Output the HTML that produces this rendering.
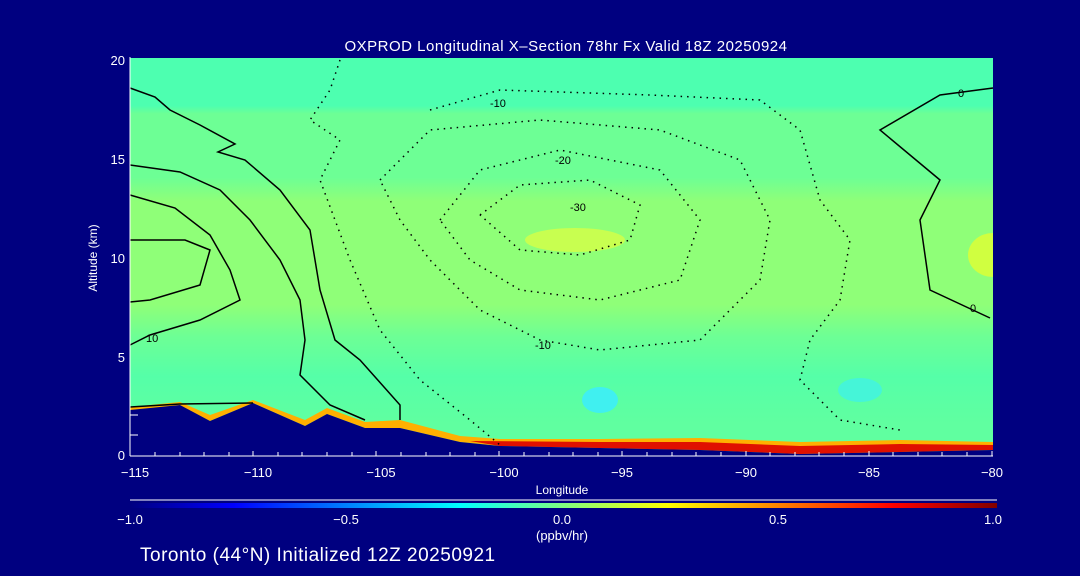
<!DOCTYPE html>
<html><head><style>
body{margin:0;background:#000080;width:1080px;height:576px;overflow:hidden}
svg{display:block}
text{font-family:"Liberation Sans",sans-serif;fill:#fff}
</style></head><body>
<svg width="1080" height="576" viewBox="0 0 1080 576">
<defs>
<clipPath id="pc"><rect x="130" y="58" width="863" height="398"/></clipPath>
<linearGradient id="bg" x1="0" y1="0" x2="0" y2="1">
<stop offset="0" stop-color="#4dffb0"/><stop offset="0.12" stop-color="#4dffb0"/>
<stop offset="0.14" stop-color="#6dff95"/><stop offset="0.3" stop-color="#6dff95"/>
<stop offset="0.36" stop-color="#8fff78"/><stop offset="0.62" stop-color="#8fff78"/>
<stop offset="0.7" stop-color="#6dff95"/><stop offset="0.8" stop-color="#55ffa8"/>
<stop offset="0.92" stop-color="#60ffa0"/><stop offset="1" stop-color="#60ffa0"/>
</linearGradient>
<linearGradient id="cb" x1="0" x2="1">
<stop offset="0" stop-color="#000080"/><stop offset="0.12" stop-color="#0000ff"/>
<stop offset="0.38" stop-color="#00ffff"/><stop offset="0.5" stop-color="#80ff80"/>
<stop offset="0.62" stop-color="#ffff00"/><stop offset="0.88" stop-color="#ff0000"/>
<stop offset="1" stop-color="#800000"/>
</linearGradient>
</defs>
<text x="566" y="51" font-size="15" text-anchor="middle" letter-spacing="0.5">OXPROD Longitudinal X–Section 78hr  Fx Valid 18Z 20250924</text>
<g clip-path="url(#pc)">
<rect x="130" y="58" width="863" height="398" fill="url(#bg)"/>
<ellipse cx="575" cy="240" rx="50" ry="12" fill="#c8ff50"/>
<ellipse cx="993" cy="255" rx="25" ry="22" fill="#d0ff40"/>
<ellipse cx="600" cy="400" rx="18" ry="13" fill="#40f0f0"/>
<ellipse cx="860" cy="390" rx="22" ry="12" fill="#45f5d8"/>
<polygon points="130,407 180,402 210,415 253,400 305,420 327,408 365,422 400,420 460,436 500,439 600,439 700,438 800,442 900,440 993,442 993,450 900,452 800,454 700,450 600,448 500,446 460,442 400,428 365,428 327,414 305,426 253,403 210,421 180,406 130,411" fill="#ffb000"/>
<polygon points="470,441 600,442 700,442 800,446 900,444 993,445 993,450 900,452 800,454 700,450 600,448 500,446" fill="#e01000"/>
<polygon points="130,410 180,405 210,421 253,403 305,426 327,414 365,428 400,428 460,442 500,446 600,448 700,450 800,454 900,452 993,450 993,456 130,456" fill="#000080"/>
</g>
<g fill="none" stroke="#000" stroke-width="1.5">
<polyline points="130,88 155,97 170,110 200,125 235,144 218,152 245,160 280,190 310,230 320,290 335,340 360,360 400,405 400,420"/>
<polyline points="130,165 180,172 220,190 250,220 280,260 300,300 305,340 300,375 330,405 365,420"/>
<polyline points="130,195 175,208 210,235 230,270 240,300 200,320 150,335 130,345"/>
<polyline points="130,240 185,240 210,250 200,285 150,300 130,302"/>
<polyline points="130,407 180,404 253,403"/>
<polyline points="993,88 940,95 880,130 940,180 920,220 930,290 990,318"/>
</g>
<g fill="none" stroke="#000" stroke-width="1.5" stroke-dasharray="1.5 5">
<polyline points="340,60 330,90 310,120 340,140 320,180 350,260 380,330 420,380 470,420 500,445"/>
<polyline points="430,110 500,90 650,95 760,100 800,130 820,200 850,240 840,300 810,340 800,380 840,420 900,430"/>
<polyline points="380,180 430,130 540,120 660,130 740,160 770,220 760,280 700,340 600,350 540,340 480,310 430,260 400,220 380,180"/>
<polyline points="440,220 480,170 560,150 660,170 700,220 680,280 600,300 520,290 470,260 440,220"/>
<polyline points="480,215 520,185 590,180 640,205 630,240 580,255 520,250 480,215"/>
</g>
<g font-size="11" style="fill:#000">
<text x="490" y="107" style="fill:#000">-10</text>
<text x="555" y="164" style="fill:#000">-20</text>
<text x="570" y="211" style="fill:#000">-30</text>
<text x="535" y="349" style="fill:#000">-10</text>
<text x="146" y="342" style="fill:#000">10</text>
<text x="958" y="97" style="fill:#000">0</text>
<text x="970" y="312" style="fill:#000">0</text>
</g>
<line x1="130" y1="57" x2="130" y2="456" stroke="#fff"/>
<line x1="130" y1="456" x2="993" y2="456" stroke="#fff"/>
<g stroke="#fff">
<path d="M130,456v-5M155,456v-4M180,456v-4M204,456v-4M229,456v-4M253,456v-5M278,456v-4M302,456v-4M327,456v-4M352,456v-4M376,456v-5M401,456v-4M426,456v-4M450,456v-4M475,456v-4M499,456v-5M524,456v-4M549,456v-4M573,456v-4M598,456v-4M622,456v-5M647,456v-4M672,456v-4M696,456v-4M721,456v-4M746,456v-5M770,456v-4M795,456v-4M819,456v-4M844,456v-4M869,456v-5M893,456v-4M918,456v-4M942,456v-4M967,456v-4M992,456v-5"/>
<path d="M130,435h8M130,415h8"/>
</g>
<g font-size="13" text-anchor="middle">
<text x="135" y="477">−115</text><text x="258" y="477">−110</text><text x="381" y="477">−105</text><text x="504" y="477">−100</text><text x="622" y="477">−95</text><text x="746" y="477">−90</text><text x="869" y="477">−85</text><text x="992" y="477">−80</text>
</g>
<g font-size="13" text-anchor="end">
<text x="125" y="65">20</text><text x="125" y="164">15</text><text x="125" y="263">10</text><text x="125" y="362">5</text><text x="125" y="460">0</text>
</g>
<text x="562" y="494" font-size="12" text-anchor="middle">Longitude</text>
<text transform="translate(97,258) rotate(-90)" font-size="12" text-anchor="middle">Altitude (km)</text>
<line x1="130" y1="500" x2="997" y2="500" stroke="#fff"/>
<rect x="130" y="503" width="867" height="5" fill="url(#cb)"/>
<g font-size="13" text-anchor="middle">
<text x="130" y="524">−1.0</text><text x="346" y="524">−0.5</text><text x="562" y="524">0.0</text><text x="778" y="524">0.5</text><text x="993" y="524">1.0</text>
</g>
<text x="562" y="540" font-size="13" text-anchor="middle">(ppbv/hr)</text>
<text x="140" y="561" font-size="19" letter-spacing="0.5">Toronto (44°N) Initialized 12Z 20250921</text>
</svg>
</body></html>
